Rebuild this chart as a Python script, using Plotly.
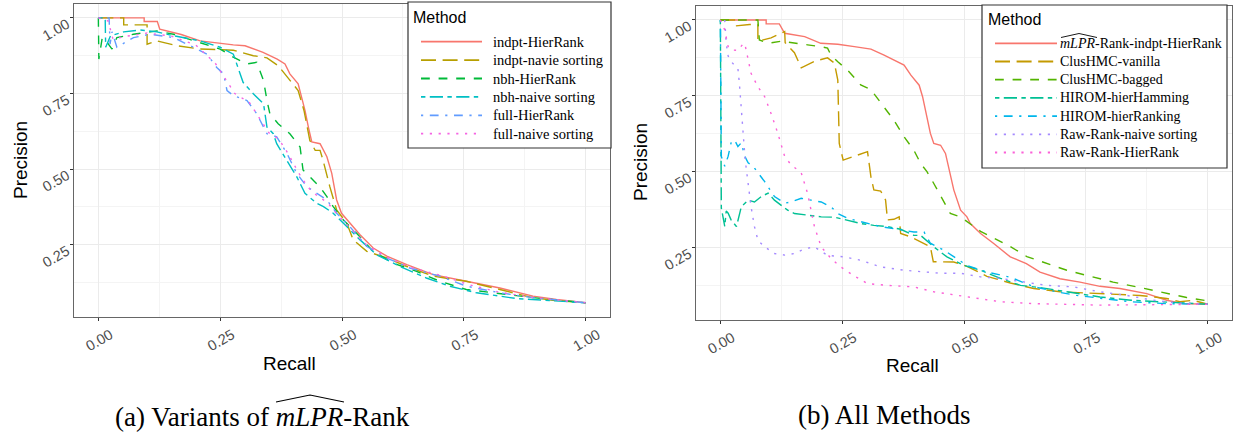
import plotly.graph_objects as go

W, H = 1235, 436

# ---------------- data: panel (a) ----------------
a_names = ["indpt-HierRank", "indpt-navie sorting", "nbh-HierRank",
           "nbh-naive sorting", "full-HierRank", "full-naive sorting"]
a_colors = ["#F8766D", "#B79F00", "#00BA38", "#00BFC4", "#619CFF", "#F564E3"]

a_indpt_hier_r = [0, 0.094, 0.094, 0.121, 0.126, 0.17, 0.209, 0.25, 0.277, 0.301, 0.338, 0.367, 0.383,
                  0.393, 0.410, 0.417, 0.424, 0.431, 0.438, 0.455, 0.469, 0.479, 0.489, 0.499, 0.516,
                  0.537, 0.564, 0.592, 0.633, 0.687, 0.755, 0.824, 0.892, 0.940, 1.0]
a_indpt_hier_p = [1.0, 1.0, 0.988, 0.988, 0.963, 0.945, 0.924, 0.915, 0.911, 0.908, 0.886, 0.864, 0.848,
                  0.815, 0.782, 0.738, 0.694, 0.639, 0.590, 0.584, 0.541, 0.486, 0.398, 0.354, 0.321,
                  0.283, 0.239, 0.212, 0.184, 0.151, 0.129, 0.107, 0.080, 0.069, 0.058]

a_indpt_naive_r = [0, 0.052, 0.052, 0.10, 0.10, 0.12, 0.161, 0.209, 0.25, 0.277, 0.318, 0.346, 0.369,
                   0.393, 0.41, 0.422, 0.434, 0.445, 0.455, 0.461, 0.475, 0.489, 0.510, 0.523, 0.551,
                   0.592, 0.633, 0.687, 0.755, 0.824, 0.885, 0.933, 1.0]
a_indpt_naive_p = [1.0, 1.0, 0.977, 0.977, 0.913, 0.924, 0.908, 0.897, 0.895, 0.893, 0.875, 0.868, 0.842,
                   0.793, 0.760, 0.694, 0.595, 0.562, 0.562, 0.53, 0.442, 0.365, 0.321, 0.266, 0.228,
                   0.206, 0.178, 0.146, 0.129, 0.102, 0.077, 0.066, 0.058]

a_nbh_hier_r = [0, 0.001, 0.008, 0.018, 0.028, 0.038, 0.072, 0.12, 0.154, 0.209, 0.25, 0.277, 0.305,
                0.325, 0.332, 0.339, 0.346, 0.352, 0.369, 0.393, 0.414, 0.42, 0.434, 0.455, 0.469,
                0.482, 0.503, 0.530, 0.564, 0.605, 0.653, 0.701, 0.755, 0.810, 0.892, 1.0]
a_nbh_hier_p = [1.0, 0.864, 0.935, 0.919, 0.897, 0.935, 0.946, 0.957, 0.946, 0.919, 0.897, 0.870, 0.848,
                0.853, 0.826, 0.793, 0.727, 0.683, 0.650, 0.617, 0.573, 0.497, 0.475, 0.44, 0.409,
                0.376, 0.332, 0.288, 0.228, 0.189, 0.162, 0.129, 0.102, 0.091, 0.075, 0.058]

a_nbh_naive_r = [0, 0.014, 0.015, 0.025, 0.052, 0.086, 0.12, 0.154, 0.209, 0.25, 0.277, 0.287, 0.297,
                 0.318, 0.339, 0.346, 0.359, 0.366, 0.387, 0.407, 0.424, 0.448, 0.462, 0.482, 0.503,
                 0.537, 0.571, 0.619, 0.673, 0.721, 0.776, 0.858, 1.0]
a_nbh_naive_p = [1.0, 1.0, 0.903, 0.941, 0.954, 0.960, 0.954, 0.941, 0.924, 0.903, 0.88, 0.836, 0.787,
                 0.749, 0.716, 0.639, 0.617, 0.584, 0.530, 0.475, 0.42, 0.387, 0.376, 0.354, 0.321,
                 0.266, 0.217, 0.178, 0.140, 0.113, 0.091, 0.072, 0.058]

a_full_hier_r = [0, 0.022, 0.024, 0.028, 0.038, 0.072, 0.107, 0.154, 0.195, 0.223, 0.243, 0.257, 0.264,
                 0.277, 0.305, 0.325, 0.346, 0.366, 0.387, 0.407, 0.428, 0.448, 0.469, 0.489, 0.516,
                 0.551, 0.592, 0.639, 0.701, 0.755, 0.824, 0.892, 1.0]
a_full_hier_p = [1.0, 1.0, 0.913, 0.954, 0.903, 0.935, 0.946, 0.935, 0.903, 0.88, 0.836, 0.815, 0.760,
                 0.743, 0.727, 0.683, 0.617, 0.607, 0.552, 0.486, 0.442, 0.42, 0.398, 0.354, 0.31,
                 0.244, 0.206, 0.173, 0.146, 0.113, 0.091, 0.075, 0.058]

a_full_naive_r = [0, 0.02, 0.03, 0.06, 0.1, 0.15, 0.2, 0.24, 0.26, 0.28, 0.31, 0.33, 0.35, 0.37, 0.39,
                  0.41, 0.43, 0.45, 0.47, 0.49, 0.52, 0.55, 0.59, 0.64, 0.70, 0.76, 0.82, 0.89, 1.0]
a_full_naive_p = [1.0, 0.99, 0.93, 0.94, 0.95, 0.94, 0.91, 0.85, 0.80, 0.75, 0.72, 0.67, 0.62, 0.60, 0.55,
                  0.49, 0.44, 0.41, 0.39, 0.35, 0.30, 0.25, 0.21, 0.175, 0.15, 0.118, 0.094, 0.076, 0.058]

# ---------------- data: panel (b) ----------------
b_names = ["<i>mLPR</i>-Rank-indpt-HierRank", "ClusHMC-vanilla", "ClusHMC-bagged",
           "HIROM-hierHamming", "HIROM-hierRanking", "Raw-Rank-naive sorting", "Raw-Rank-HierRank"]
b_colors = ["#F8766D", "#C49A00", "#53B400", "#00C094", "#00B6EB", "#A58AFF", "#FB61D7"]

b_mlpr_r = [0, 0.094, 0.094, 0.121, 0.132, 0.173, 0.206, 0.241, 0.275, 0.309, 0.336, 0.356, 0.377,
            0.391, 0.408, 0.415, 0.421, 0.431, 0.438, 0.452, 0.462, 0.472, 0.479, 0.493, 0.506,
            0.513, 0.534, 0.561, 0.595, 0.628, 0.656, 0.697, 0.738, 0.779, 0.820, 0.875, 0.916, 0.950, 1.0]
b_mlpr_p = [1.0, 1.0, 0.987, 0.987, 0.956, 0.945, 0.923, 0.92, 0.912, 0.904, 0.884, 0.868, 0.851,
            0.818, 0.785, 0.747, 0.703, 0.626, 0.593, 0.587, 0.56, 0.494, 0.44, 0.373, 0.351,
            0.329, 0.296, 0.263, 0.219, 0.197, 0.169, 0.147, 0.136, 0.122, 0.115, 0.098, 0.076, 0.065, 0.063]

b_vanilla_r = [0, 0.029, 0.029, 0.06, 0.077, 0.077, 0.104, 0.132, 0.133, 0.152, 0.166, 0.193, 0.22,
               0.234, 0.241, 0.244, 0.252, 0.273, 0.302, 0.309, 0.315, 0.329, 0.339, 0.343, 0.356,
               0.367, 0.37, 0.391, 0.411, 0.431, 0.437, 0.464, 0.479, 0.506, 0.547, 0.595, 0.643,
               0.697, 0.752, 0.806, 0.861, 0.888, 0.916, 0.943, 0.970, 1.0]
b_vanilla_p = [1.0, 1.0, 0.98, 0.985, 0.985, 0.93, 0.941, 0.962, 0.925, 0.892, 0.842, 0.864, 0.875,
               0.858, 0.802, 0.593, 0.538, 0.549, 0.566, 0.483, 0.44, 0.436, 0.407, 0.341, 0.343,
               0.351, 0.296, 0.285, 0.268, 0.252, 0.203, 0.203, 0.202, 0.188, 0.155, 0.133, 0.115,
               0.104, 0.10, 0.098, 0.092, 0.087, 0.082, 0.071, 0.076, 0.063]

b_bagged_r = [0, 0.077, 0.08, 0.098, 0.125, 0.152, 0.179, 0.207, 0.22, 0.227, 0.241, 0.261, 0.288,
              0.309, 0.336, 0.356, 0.377, 0.397, 0.411, 0.424, 0.438, 0.452, 0.472, 0.493, 0.513,
              0.534, 0.561, 0.595, 0.629, 0.670, 0.711, 0.759, 0.806, 0.861, 0.916, 0.957, 1.0]
b_bagged_p = [1.0, 1.0, 0.934, 0.923, 0.93, 0.923, 0.918, 0.912, 0.907, 0.884, 0.862, 0.835, 0.786,
              0.77, 0.714, 0.670, 0.615, 0.571, 0.527, 0.50, 0.461, 0.42, 0.362, 0.351, 0.329,
              0.303, 0.281, 0.253, 0.220, 0.197, 0.175, 0.155, 0.136, 0.118, 0.10, 0.085, 0.074]

b_hamming_r = [0, 0.002, 0.009, 0.012, 0.016, 0.022, 0.033, 0.043, 0.057, 0.070, 0.084, 0.098, 0.111,
               0.138, 0.152, 0.179, 0.207, 0.234, 0.261, 0.288, 0.315, 0.343, 0.370, 0.397, 0.411,
               0.438, 0.465, 0.5, 0.534, 0.575, 0.616, 0.656, 0.711, 0.779, 0.843, 0.916, 1.0]
b_hamming_p = [1.0, 0.38, 0.319, 0.37, 0.363, 0.341, 0.319, 0.384, 0.406, 0.40, 0.418, 0.429, 0.406,
               0.373, 0.362, 0.356, 0.351, 0.35, 0.34, 0.329, 0.323, 0.319, 0.31, 0.29, 0.29,
               0.252, 0.219, 0.191, 0.175, 0.148, 0.125, 0.118, 0.104, 0.087, 0.076, 0.071, 0.063]

b_ranking_r = [0, 0.002, 0.009, 0.016, 0.022, 0.029, 0.036, 0.043, 0.050, 0.057, 0.067, 0.077, 0.091,
               0.111, 0.132, 0.145, 0.166, 0.186, 0.207, 0.227, 0.241, 0.261, 0.288, 0.329, 0.37,
               0.397, 0.418, 0.431, 0.459, 0.479, 0.506, 0.547, 0.595, 0.643, 0.690, 0.731, 0.779,
               0.843, 0.916, 1.0]
b_ranking_p = [1.0, 0.55, 0.518, 0.551, 0.595, 0.605, 0.583, 0.595, 0.551, 0.529, 0.518, 0.496, 0.467,
               0.418, 0.396, 0.40, 0.412, 0.406, 0.40, 0.384, 0.362, 0.346, 0.335, 0.319, 0.308,
               0.301, 0.301, 0.264, 0.241, 0.219, 0.191, 0.169, 0.152, 0.121, 0.104, 0.092, 0.082,
               0.071, 0.065, 0.063]

b_raw_naive_r = [0.009, 0.012, 0.016, 0.022, 0.029, 0.036, 0.039, 0.043, 0.046, 0.051, 0.057, 0.063,
                 0.070, 0.077, 0.091, 0.111, 0.132, 0.152, 0.173, 0.193, 0.22, 0.254, 0.288, 0.329,
                 0.377, 0.411, 0.452, 0.493, 0.534, 0.575, 0.629, 0.670, 0.725, 0.779, 0.834, 0.888,
                 0.943, 1.0]
b_raw_naive_p = [1.0, 0.923, 0.881, 0.863, 0.851, 0.84, 0.791, 0.703, 0.626, 0.538, 0.461, 0.384,
                 0.319, 0.274, 0.252, 0.23, 0.225, 0.23, 0.246, 0.252, 0.224, 0.219, 0.208, 0.186,
                 0.175, 0.17, 0.165, 0.165, 0.153, 0.148, 0.136, 0.125, 0.12, 0.104, 0.092, 0.076,
                 0.067, 0.063]

b_raw_hier_r = [0, 0.009, 0.016, 0.022, 0.036, 0.046, 0.05, 0.057, 0.063, 0.077, 0.091, 0.104, 0.118,
                0.132, 0.145, 0.166, 0.179, 0.193, 0.207, 0.227, 0.247, 0.273, 0.302, 0.343, 0.397,
                0.438, 0.506, 0.575, 0.643, 0.711, 0.779, 1.0]
b_raw_hier_p = [1.0, 0.967, 0.912, 0.901, 0.90, 0.92, 0.923, 0.874, 0.824, 0.78, 0.747, 0.692, 0.626,
                0.55, 0.523, 0.496, 0.428, 0.319, 0.252, 0.214, 0.186, 0.158, 0.131, 0.125, 0.12,
                0.104, 0.087, 0.071, 0.065, 0.063, 0.06, 0.063]

a_series = [(a_indpt_hier_r, a_indpt_hier_p), (a_indpt_naive_r, a_indpt_naive_p),
            (a_nbh_hier_r, a_nbh_hier_p), (a_nbh_naive_r, a_nbh_naive_p),
            (a_full_hier_r, a_full_hier_p), (a_full_naive_r, a_full_naive_p)]
b_series = [(b_mlpr_r, b_mlpr_p), (b_vanilla_r, b_vanilla_p), (b_bagged_r, b_bagged_p),
            (b_hamming_r, b_hamming_p), (b_ranking_r, b_ranking_p),
            (b_raw_naive_r, b_raw_naive_p), (b_raw_hier_r, b_raw_hier_p)]

SOLID, LONGDASH, DASHED, TWODASH, DOTDASH, DOTTED = (
    "solid", "15px,6.6px", "8.8px,8.8px", "4.4px,4.4px,13.2px,4.4px",
    "2.2px,6.6px,8.8px,6.6px", "2.2px,6.6px")
a_dashes = [SOLID, LONGDASH, DASHED, TWODASH, DOTDASH, DOTTED]
b_dashes = [SOLID, LONGDASH, DASHED, TWODASH, DOTDASH, DOTTED, DOTTED]

fig = go.Figure()
for (r, p), name, col, dash in zip(a_series, a_names, a_colors, a_dashes):
    fig.add_trace(go.Scatter(x=r, y=p, mode="lines", name=name, xaxis="x", yaxis="y",
                             line=dict(color=col, width=1.4, dash=dash), showlegend=False))
for (r, p), name, col, dash in zip(b_series, b_names, b_colors, b_dashes):
    fig.add_trace(go.Scatter(x=r, y=p, mode="lines", name=name, xaxis="x2", yaxis="y2",
                             line=dict(color=col, width=1.4, dash=dash), showlegend=False))

tickvals = [0, 0.25, 0.5, 0.75, 1.0]
ticktext = ["0.00", "0.25", "0.50", "0.75", "1.00"]
ytickvals = [0.25, 0.5, 0.75, 1.0]
yticktext = ["0.25", "0.50", "0.75", "1.00"]

tickfont = dict(family="Liberation Sans", size=14.5, color="#4D4D4D")
common_x = dict(range=[-0.05, 1.05], tickvals=tickvals, ticktext=ticktext, tickangle=-30,
                tickfont=tickfont, showgrid=True, gridcolor="#EBEBEB", gridwidth=1,
                minor=dict(tickvals=[0.125, 0.375, 0.625, 0.875], showgrid=True,
                           gridcolor="#F4F4F4", gridwidth=0.6),
                showline=True, linecolor="#666666", linewidth=1, mirror=True,
                ticks="outside", ticklen=3, tickcolor="#333333", zeroline=False,
                ticklabelshift=12)
common_y = dict(range=[0.011, 1.046], tickvals=ytickvals, ticktext=yticktext, tickangle=-30,
                tickfont=tickfont, showgrid=True, gridcolor="#EBEBEB", gridwidth=1,
                minor=dict(tickvals=[0.125, 0.375, 0.625, 0.875], showgrid=True,
                           gridcolor="#F4F4F4", gridwidth=0.6),
                showline=True, linecolor="#666666", linewidth=1, mirror=True,
                ticks="outside", ticklen=3, tickcolor="#333333", zeroline=False,
                ticklabelshift=5)

fig.update_layout(
    width=W, height=H, margin=dict(l=0, r=0, t=0, b=0),
    paper_bgcolor="white", plot_bgcolor="white", showlegend=False,
    xaxis=dict(domain=[74 / W, 610 / W], anchor="y", **common_x),
    yaxis=dict(domain=[1 - 317 / H, 1 - 4 / H], anchor="x", **common_y),
    xaxis2=dict(domain=[696 / W, 1232 / W], anchor="y2", **common_x),
    yaxis2=dict(domain=[1 - 320 / H, 1 - 6 / H], anchor="x2", **common_y),
)

def px(x): return x / W
def py(y): return 1 - y / H

def ann(text, x, y, size, family, angle=0, color="black", xanchor="center"):
    fig.add_annotation(text=text, x=px(x), y=py(y), xref="paper", yref="paper",
                       showarrow=False, textangle=angle, xanchor=xanchor, yanchor="middle",
                       font=dict(family=family, size=size, color=color))

# ---- legends drawn as guides (box, key lines, labels) ----
def legend_box(x0, y0, x1, y1, title_x, title_y, key_x0, key_x1, text_x, row0, step,
               names, colors, dashes, size):
    fig.add_shape(type="rect", xref="paper", yref="paper", x0=px(x0), x1=px(x1), y0=py(y1), y1=py(y0),
                  fillcolor="white", line=dict(color="#333333", width=1.2), layer="above")
    ann("Method", title_x, title_y, 16, "Liberation Sans", xanchor="left")
    for i, (name, col, dash) in enumerate(zip(names, colors, dashes)):
        yy = row0 + step * i
        fig.add_shape(type="line", xref="paper", yref="paper", x0=px(key_x0), x1=px(key_x1),
                      y0=py(yy), y1=py(yy), line=dict(color=col, width=1.8, dash=dash), layer="above")
        ann(name, text_x, yy, size, "Liberation Serif", xanchor="left")

legend_box(408, 2, 611, 148, 411, 17, 421, 482, 491, 41.7, 18.4, a_names, a_colors, a_dashes, 14.5)
legend_box(982, 5, 1227, 168, 986, 20, 995, 1057, 1058, 43.3, 18.2, b_names, b_colors, b_dashes, 14)

# hat over mLPR in the legend
fig.add_shape(type="path", xref="paper", yref="paper",
              path=f"M {px(1061)} {py(37.5)} L {px(1079)} {py(33.5)} L {px(1097)} {py(37.5)}",
              line=dict(color="black", width=0.9), layer="above")

ann("Precision", 20, 160, 19, "Liberation Sans", -90)
ann("Precision", 640, 162, 19, "Liberation Sans", -90)
ann("Recall", 289, 363, 19, "Liberation Sans")
ann("Recall", 912, 365, 19, "Liberation Sans")
ann("(a) Variants of <i>mLPR</i>-Rank", 262, 417, 27, "Liberation Serif")
ann("(b) All Methods", 884, 415, 27, "Liberation Serif")

# hat over mLPR in caption (a)
fig.add_shape(type="path", xref="paper", yref="paper",
              path=f"M {px(276)} {py(402)} L {px(310)} {py(395)} L {px(344)} {py(402)}",
              line=dict(color="black", width=1.1), layer="above")

fig.write_html("out.html")
